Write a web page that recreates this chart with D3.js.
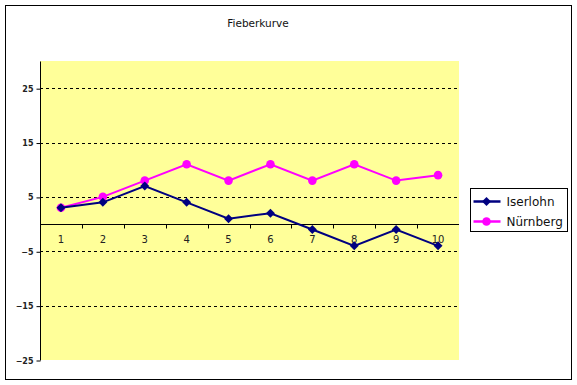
<!DOCTYPE html>
<html>
<head>
<meta charset="utf-8">
<script src="https://cdn.jsdelivr.net/npm/d3@7"></script>
<style>
  body { margin: 0; background: #fff; }
  text { font-family: Tahoma, "DejaVu Sans", Verdana, sans-serif; }
</style>
</head>
<body>
<svg id="chart" width="577" height="385"></svg>
<script>
// chart data
var days = [1, 2, 3, 4, 5, 6, 7, 8, 9, 10];
var iserlohn = [3, 4, 7, 4, 1, 2, -1, -4, -1, -4];
var nuernberg = [3, 5, 8, 11, 8, 11, 8, 11, 8, 9];
var yTicks = [-25, -15, -5, 5, 15, 25];
var seriesNames = ["Iserlohn", "Nürnberg"];

var svg = d3.select("#chart");
var plot = { left: 40, top: 61, right: 459, bottom: 360 };

// outer frame
svg.append("rect")
    .attr("x", 5.5).attr("y", 5.5)
    .attr("width", 566).attr("height", 374)
    .attr("fill", "#fff")
    .attr("stroke", "#000").attr("stroke-width", 1);

svg.append("text")
    .attr("x", 258).attr("y", 27)
    .attr("text-anchor", "middle")
    .attr("font-size", "10.5px")
    .attr("fill", "#111")
    .text("Fieberkurve");

var x = d3.scaleBand().domain(days).range([plot.left, plot.right]);
var y = d3.scaleLinear().domain([-25, 30]).range([plot.bottom, plot.top]);

// plot background
svg.append("rect")
    .attr("x", plot.left).attr("y", plot.top)
    .attr("width", plot.right - plot.left).attr("height", plot.bottom - plot.top)
    .attr("fill", "#ffff99");

// dashed grid lines
svg.append("g").selectAll("line").data(yTicks.filter(function (d) { return d != -25; }))
  .enter().append("line")
    .attr("x1", plot.left).attr("x2", plot.right)
    .attr("y1", function (d) { return Math.round(y(d)) + 0.5; })
    .attr("y2", function (d) { return Math.round(y(d)) + 0.5; })
    .attr("stroke", "#000")
    .attr("stroke-dasharray", "3,3");

// y axis
var yAxis = svg.append("g")
    .attr("transform", "translate(" + (plot.left + 0.5) + ",0.5)")
    .call(d3.axisLeft(y).tickValues(yTicks).tickSize(4).tickPadding(3).tickSizeOuter(0));
yAxis.select(".domain").attr("d", "M0," + Math.round(y(30)) + "V" + Math.round(y(-25)));
yAxis.selectAll("text").attr("font-size", "8px").attr("font-family", "Tahoma, 'DejaVu Sans', sans-serif").attr("font-weight", "bold").attr("fill", "#222");

// x axis at zero
var zeroY = Math.round(y(0)) + 0.5;
var xg = svg.append("g");
xg.append("line")
    .attr("x1", plot.left).attr("x2", plot.right)
    .attr("y1", zeroY).attr("y2", zeroY)
    .attr("stroke", "#000");
xg.selectAll(".tick").data(days.slice(1))
  .enter().append("line")
    .attr("x1", function (d) { return Math.round(x(d)) + 0.5; })
    .attr("x2", function (d) { return Math.round(x(d)) + 0.5; })
    .attr("y1", zeroY).attr("y2", zeroY + 4)
    .attr("stroke", "#000");
xg.selectAll("text").data(days)
  .enter().append("text")
    .attr("x", function (d) { return x(d) + x.bandwidth() / 2; })
    .attr("y", zeroY + 18)
    .attr("text-anchor", "middle")
    .attr("font-size", "10px")
    .attr("fill", "#222")
    .text(function (d) { return d; });

var cx = function (d, i) { return x(days[i]) + x.bandwidth() / 2; };
var line = d3.line().x(cx).y(function (d) { return y(d); });

// Nürnberg
svg.append("path").datum(nuernberg)
    .attr("d", line).attr("fill", "none")
    .attr("stroke", "#ff00ff").attr("stroke-width", 2);
svg.append("g").selectAll("circle").data(nuernberg)
  .enter().append("circle")
    .attr("cx", cx).attr("cy", function (d) { return y(d); })
    .attr("r", 4.3).attr("fill", "#ff00ff");

// Iserlohn
svg.append("path").datum(iserlohn)
    .attr("d", line).attr("fill", "none")
    .attr("stroke", "#000080").attr("stroke-width", 2);
var diamond = d3.symbol().type(d3.symbolSquare).size(40);
svg.append("g").selectAll("path").data(iserlohn)
  .enter().append("path")
    .attr("d", diamond)
    .attr("transform", function (d, i) { return "translate(" + cx(d, i) + "," + y(d) + ") rotate(45)"; })
    .attr("fill", "#000080");

// legend
var legend = svg.append("g").attr("transform", "translate(470.5,188.5)");
legend.append("rect")
    .attr("width", 97).attr("height", 43)
    .attr("fill", "#fff").attr("stroke", "#000");
var colors = ["#000080", "#ff00ff"];
seriesNames.forEach(function (name, i) {
    var ly = 13 + i * 20;
    legend.append("line")
        .attr("x1", 3).attr("x2", 30).attr("y1", ly).attr("y2", ly)
        .attr("stroke", colors[i]).attr("stroke-width", 2.5);
    if (i == 0) {
        legend.append("path").attr("d", diamond)
            .attr("transform", "translate(16," + ly + ") rotate(45)").attr("fill", colors[i]);
    } else {
        legend.append("circle").attr("cx", 16).attr("cy", ly).attr("r", 4.3).attr("fill", colors[i]);
    }
    legend.append("text")
        .attr("x", 36).attr("y", ly + 4.5)
        .attr("font-size", "12px")
        .attr("fill", "#111")
        .text(name);
});
</script>
</body>
</html>
